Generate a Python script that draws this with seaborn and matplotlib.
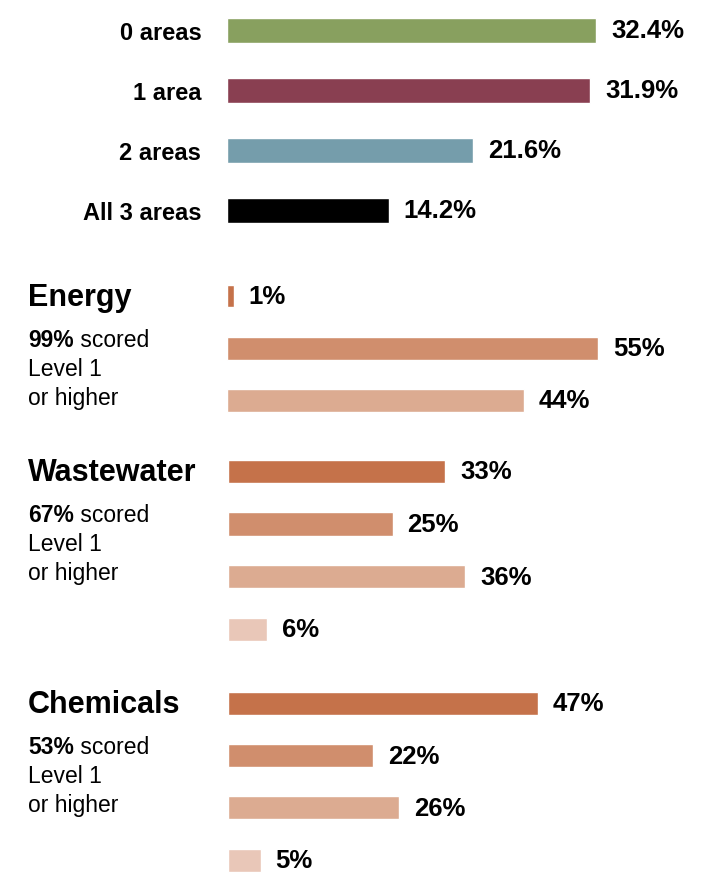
import matplotlib
matplotlib.use("Agg")
import matplotlib.pyplot as plt
import seaborn as sns
import pandas as pd

W, H = 722, 874
FONT = ["Liberation Sans", "DejaVu Sans"]

# Share of plants by number of areas that scored Level 1 or higher
AREA_LABELS = ["0 areas", "1 area", "2 areas", "All 3 areas"]
AREA_VALUES = [32.4, 31.9, 21.6, 14.2]
AREA_COLORS = ["#88a05f", "#893f51", "#759dab", "#000000"]

# Per-area distribution over levels 0..3
LEVELS = ["Level 0", "Level 1", "Level 2", "Level 3"]
LEVEL_COLORS = ["#c5724a", "#d08e6d", "#dcab91", "#e9c7b8"]
SECTORS = ["Energy", "Wastewater", "Chemicals"]
SECTOR_SCORED = [99, 67, 53]
ENERGY_VALUES = [1, 55, 44]
WASTEWATER_VALUES = [33, 25, 36, 6]
CHEMICALS_VALUES = [47, 22, 26, 5]


def px_axes(fig, left, top, right, bottom):
    """Axes placed with pixel coords measured from the top-left corner."""
    return fig.add_axes([left / W, 1 - bottom / H,
                         (right - left) / W, (bottom - top) / H])


def bar_block(fig, labels, values, colors, first_c, step, left, px_per_unit,
              bar_w, fmt, show_labels=False):
    n = len(values)
    ax = px_axes(fig, left, first_c - step / 2, W, first_c + step * (n - 0.5))
    df = pd.DataFrame({"label": labels, "value": values})
    sns.barplot(data=df, x="value", y="label", hue="label",
                palette=colors[:n], orient="h", width=bar_w,
                saturation=1, errorbar=None, legend=False, ax=ax)
    ax.set_xlim(0, (W - left) / px_per_unit)
    ax.set_ylim(n - 0.5, -0.5)
    for i, v in enumerate(values):
        ax.annotate(fmt.format(v), xy=(v, i), xytext=(15, -1),
                    textcoords="offset pixels", va="center", ha="left",
                    fontsize=18.5, fontweight="bold", family=FONT,
                    color="black")
    sns.despine(ax=ax, left=True, bottom=True)
    ax.set_xlabel("")
    ax.set_ylabel("")
    ax.set_xticks([])
    if show_labels:
        ax.tick_params(axis="y", length=0, pad=18.5, labelcolor="black")
        for t in ax.get_yticklabels():
            t.set_fontweight("bold")
            t.set_fontsize(17)
            t.set_family(FONT)
    else:
        ax.set_yticks([])
    ax.patch.set_alpha(0)
    return ax


def sector_text(fig, ax, name, scored, baseline):
    y = lambda px: 1 - px / H
    fig.text(28 / W, y(baseline), name, fontsize=22, fontweight="bold",
             family=FONT, va="baseline")
    sub = baseline + 41
    bold = fig.text(28 / W, y(sub), f"{scored}%", fontsize=16.5,
                    fontweight="bold", family=FONT, va="baseline")
    ax.annotate(" scored", xy=(1, 0), xycoords=bold, va="bottom",
                fontsize=16.5, family=FONT, annotation_clip=False)
    fig.text(28 / W, y(sub + 29), "Level 1", fontsize=16.5, family=FONT,
             va="baseline")
    fig.text(28 / W, y(sub + 58), "or higher", fontsize=16.5, family=FONT,
             va="baseline")


sns.set_theme(style="white")
plt.rcParams["font.family"] = FONT
plt.rcParams["text.color"] = "black"

fig = plt.figure(figsize=(W / 100, H / 100), dpi=100)

bar_block(fig, AREA_LABELS, AREA_VALUES, AREA_COLORS, 30.5, 60.0, 227,
          11.39, 0.41, "{:.1f}%", show_labels=True)

ax_e = bar_block(fig, LEVELS[:3], ENERGY_VALUES, LEVEL_COLORS, 296.0, 52.2,
                 227, 6.75, 0.44, "{}%")
ax_w = bar_block(fig, LEVELS, WASTEWATER_VALUES, LEVEL_COLORS, 471.3, 52.7,
                 227.5, 6.6, 0.44, "{}%")
ax_c = bar_block(fig, LEVELS, CHEMICALS_VALUES, LEVEL_COLORS, 703.3, 52.3,
                 227.5, 6.6, 0.44, "{}%")

for ax, name, scored, base in zip([ax_e, ax_w, ax_c], SECTORS, SECTOR_SCORED,
                                  [306, 481, 713]):
    sector_text(fig, ax, name, scored, base)

fig.savefig("out.png", dpi=100)
